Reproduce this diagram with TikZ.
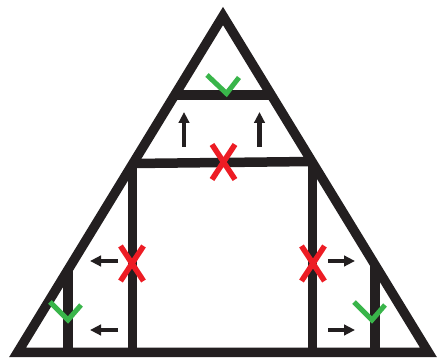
\documentclass[tikz,border=0pt]{standalone}
\usetikzlibrary{arrows.meta}
\definecolor{frame}{HTML}{231F20}
\definecolor{xred}{HTML}{ED1C24}
\definecolor{okgreen}{HTML}{39B54A}
\tikzset{
  wall/.style={draw=frame, line width=9.5pt, line cap=butt, line join=miter},
  cross/.style={draw=xred, line width=5.5pt, line cap=butt},
  tick/.style={draw=okgreen, line width=5pt, line cap=butt, line join=miter},
  push/.style={draw=frame, line width=4.5pt, -{Triangle[length=11pt,width=10.5pt]}}
}
\begin{document}
\begin{tikzpicture}[x=1pt,y=-1pt]
\useasboundingbox[fill=white] (0,0) rectangle (437,358);
% frame corners
\coordinate (apex) at (223,16);
\coordinate (bl) at (17.5,352.5);
\coordinate (br) at (428.5,352.5);
% bars
\coordinate (tbl) at (174.7,95);
\coordinate (tbr) at (271.3,95);
\coordinate (mbl) at (132.9,163.5);
\coordinate (mbr) at (311.9,161.5);
% verticals
\coordinate (lvt) at (132.5,163.5);
\coordinate (lvb) at (132.5,352.5);
\coordinate (rvt) at (312.5,161.5);
\coordinate (rvb) at (312.5,352.5);
\coordinate (slt) at (68,269.7);
\coordinate (slb) at (68,352.5);
\coordinate (srt) at (375,264.8);
\coordinate (srb) at (375,352.5);
% structure
\draw[wall] (apex) -- (br) -- (bl) -- cycle;
\draw[wall] (tbl) -- (tbr);
\draw[wall] (mbl) -- (mbr);
\draw[wall] (lvt) -- (lvb);
\draw[wall] (rvt) -- (rvb);
\draw[wall] (slt) -- (slb);
\draw[wall] (srt) -- (srb);
% arrows
\coordinate (ua1) at (184,147); \coordinate (ua1t) at (184,112);
\coordinate (ua2) at (259.5,147); \coordinate (ua2t) at (259.5,112);
\coordinate (la1) at (118,261); \coordinate (la1t) at (90,261);
\coordinate (la2) at (118,330); \coordinate (la2t) at (90,330);
\coordinate (ra1) at (328,261); \coordinate (ra1t) at (355,261);
\coordinate (ra2) at (328,330); \coordinate (ra2t) at (355,330);
\draw[push] (ua1) -- (ua1t);
\draw[push] (ua2) -- (ua2t);
\draw[push] (la1) -- (la1t);
\draw[push] (la2) -- (la2t);
\draw[push] (ra1) -- (ra1t);
\draw[push] (ra2) -- (ra2t);
% red crosses
\coordinate (xm) at (223.5,162);
\coordinate (xl) at (132,263.5);
\coordinate (xr) at (313,263.5);
\foreach \c in {xm,xl,xr}{
  \draw[cross] ([shift={(-11.5,-17.5)}]\c) -- ([shift={(11.5,17.5)}]\c);
  \draw[cross] ([shift={(11.5,-17.5)}]\c) -- ([shift={(-11.5,17.5)}]\c);
}
% green ticks
\coordinate (gt1) at (207,75); \coordinate (gt2) at (226.5,93.5); \coordinate (gt3) at (239,77.5);
\coordinate (gl1) at (50,302); \coordinate (gl2) at (68,320); \coordinate (gl3) at (81,305);
\coordinate (gr1) at (354,302); \coordinate (gr2) at (372,320); \coordinate (gr3) at (385,305);
\draw[tick] (gt1) -- (gt2) -- (gt3);
\draw[tick] (gl1) -- (gl2) -- (gl3);
\draw[tick] (gr1) -- (gr2) -- (gr3);
\end{tikzpicture}
\end{document}
